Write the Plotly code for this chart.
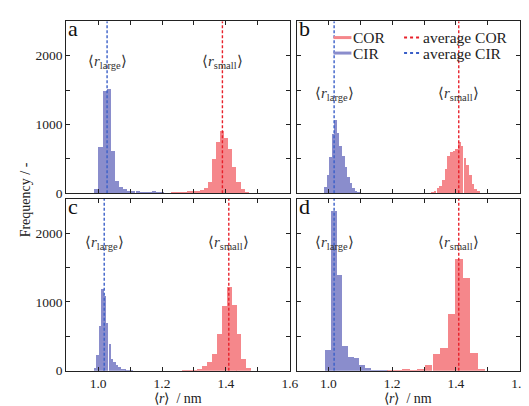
import plotly.graph_objects as go

# ---------------- data ----------------
panels = ["a", "b", "c", "d"]

cir_a_x = [0.995, 1.008, 1.021, 1.034, 1.047, 1.060, 1.072, 1.085, 1.098, 1.111, 1.124, 1.137, 1.150, 1.162, 1.175, 1.188, 1.201]
cir_a_y = [57, 670, 1490, 1512, 614, 175, 94, 57, 37, 37, 28, 20, 15, 15, 35, 10, 5]
cor_a_x = [1.235, 1.248, 1.260, 1.273, 1.286, 1.299, 1.312, 1.325, 1.337, 1.350, 1.363, 1.376, 1.389, 1.402, 1.414, 1.427, 1.440, 1.453, 1.466]
cor_a_y = [5, 8, 12, 15, 33, 33, 33, 47, 80, 156, 496, 746, 908, 803, 638, 377, 165, 61, 15]

cir_b_x = [0.989, 0.997, 1.005, 1.013, 1.021, 1.029, 1.037, 1.045, 1.053, 1.061, 1.069, 1.077, 1.085, 1.093]
cir_b_y = [94, 260, 520, 851, 1064, 874, 685, 543, 377, 235, 142, 71, 33, 10]
cor_b_x = [1.325, 1.333, 1.342, 1.350, 1.359, 1.367, 1.376, 1.384, 1.393, 1.401, 1.410, 1.418, 1.427, 1.435, 1.444, 1.452, 1.461, 1.469]
cor_b_y = [12, 33, 71, 108, 189, 345, 543, 590, 614, 638, 742, 685, 505, 401, 260, 128, 61, 23]

cir_c_x = [0.9905, 0.998, 1.006, 1.014, 1.021, 1.029, 1.037, 1.044, 1.052, 1.060, 1.067, 1.075, 1.083, 1.090, 1.098, 1.106]
cir_c_y = [47, 229, 657, 1190, 1086, 695, 395, 180, 133, 95, 61, 37, 23, 15, 12, 8]
cor_c_x = [1.272, 1.287, 1.303, 1.318, 1.333, 1.349, 1.364, 1.380, 1.395, 1.4105, 1.426, 1.441, 1.457, 1.472]
cor_c_y = [8, 10, 12, 37, 76, 133, 251, 537, 943, 1219, 966, 537, 180, 47]

cir_d_x = [0.997, 1.015, 1.033, 1.051, 1.069, 1.087, 1.105, 1.123, 1.141, 1.159, 1.177]
cir_d_y = [307, 2330, 1400, 370, 208, 185, 90, 42, 15, 8, 6]
cor_d_x = [1.194, 1.218, 1.242, 1.266, 1.289, 1.313, 1.337, 1.361, 1.384, 1.408, 1.432, 1.455, 1.479]
cor_d_y = [5, 12, 23, 8, 23, 90, 250, 330, 830, 1630, 1355, 260, 35]

# histogram bin widths (nm)
cir_binwidth = [0.0128, 0.0080, 0.0077, 0.0180]
cor_binwidth = [0.0128, 0.0085, 0.0154, 0.0237]

# averages (nm)
avg_cir = [1.028, 1.018, 1.019, 1.018]
avg_cor = [1.389, 1.409, 1.409, 1.409]

x_ticks = [1.0, 1.2, 1.4, 1.6]
y_ticks = [0, 1000, 2000]

cir_x = [cir_a_x, cir_b_x, cir_c_x, cir_d_x]
cir_y = [cir_a_y, cir_b_y, cir_c_y, cir_d_y]
cor_x = [cor_a_x, cor_b_x, cor_c_x, cor_d_x]
cor_y = [cor_a_y, cor_b_y, cor_c_y, cor_d_y]

# ---------------- style ----------------
W, H = 529, 406
FONT = "Liberation Serif, Times New Roman, serif"
BLUE_BAR = "#8a8dcc"
RED_BAR = "#f5878b"
BLUE_LINE = "#3a5fc8"
RED_LINE = "#e8202a"
TXT = "#222222"

def fx(px):
    return px / W

def fy(py):
    return 1 - py / H

xdom = [[fx(59.2), fx(286.7)], [fx(293.5), fx(520.5)]]
ydom = [[fy(189.0), fy(13.5)], [fy(370.0), fy(194.5)]]
label_y = [0.765, 0.575, 0.745, 0.745]

fig = go.Figure()

for i in range(4):
    row, col = divmod(i, 2)
    n = "" if i == 0 else str(i + 1)
    xa, ya = "x" + n, "y" + n
    fig.add_trace(go.Bar(x=cir_x[i], y=cir_y[i], width=cir_binwidth[i],
                         marker=dict(color=BLUE_BAR, line=dict(width=0)),
                         xaxis=xa, yaxis=ya, showlegend=False))
    fig.add_trace(go.Bar(x=cor_x[i], y=cor_y[i], width=cor_binwidth[i],
                         marker=dict(color=RED_BAR, line=dict(width=0)),
                         xaxis=xa, yaxis=ya, showlegend=False))
    fig.add_trace(go.Scatter(x=[avg_cir[i], avg_cir[i]], y=[0, 2500], mode="lines",
                             line=dict(color=BLUE_LINE, width=1.4, dash="3px,2px"),
                             xaxis=xa, yaxis=ya, showlegend=False))
    fig.add_trace(go.Scatter(x=[avg_cor[i], avg_cor[i]], y=[0, 2500], mode="lines",
                             line=dict(color=RED_LINE, width=1.4, dash="3px,2px"),
                             xaxis=xa, yaxis=ya, showlegend=False))

    common = dict(showline=True, linecolor="#222", linewidth=1, mirror="allticks",
                  ticks="inside", ticklen=4, tickcolor="#222", showgrid=False,
                  zeroline=False, tickfont=dict(family=FONT, size=13.5, color=TXT))
    xkey = "xaxis" + n
    ykey = "yaxis" + n
    fig.layout[xkey] = dict(common, domain=xdom[col], range=[0.9, 1.6], anchor=ya,
                            tickvals=x_ticks, tickformat=".1f",
                            showticklabels=(row == 1),
                            minor=dict(dtick=0.1, tick0=0.9, ticks="inside", ticklen=4, tickcolor="#222"))
    fig.layout[ykey] = dict(common, domain=ydom[row], range=[0, 2500], anchor=xa,
                            tickvals=y_ticks, showticklabels=(col == 0),
                            minor=dict(dtick=500, tick0=0, ticks="inside", ticklen=4, tickcolor="#222"))

    # panel letter
    fig.add_annotation(x=0.0, y=0.955, xref=xa + " domain", yref=ya + " domain",
                       text=panels[i], showarrow=False, xanchor="left", yanchor="middle",
                       font=dict(family=FONT, size=22, color="#111"))
    # r labels
    fig.add_annotation(x=avg_cir[i], y=label_y[i], xref=xa, yref=ya + " domain",
                       text="⟨<i>r</i><sub>large</sub>⟩", showarrow=False,
                       xanchor="center", yanchor="middle",
                       font=dict(family=FONT, size=15, color="#333"))
    fig.add_annotation(x=avg_cor[i], y=label_y[i], xref=xa, yref=ya + " domain",
                       text="⟨<i>r</i><sub>small</sub>⟩", showarrow=False,
                       xanchor="center", yanchor="middle",
                       font=dict(family=FONT, size=15, color="#333"))

# legend (manual) in panel b
lx, ly = "x2 domain", "y2 domain"
legend_items = [
    ("COR", RED_BAR, "solid", 0.166, 0.905),
    ("CIR", BLUE_BAR, "solid", 0.166, 0.815),
    ("average COR", RED_LINE, "dot", 0.482, 0.905),
    ("average CIR", BLUE_LINE, "dot", 0.482, 0.815),
]
for label, color, dash, x0, y0 in legend_items:
    fig.add_shape(type="line", xref=lx, yref=ly, x0=x0, x1=x0 + 0.08, y0=y0, y1=y0,
                  line=dict(color=color, width=3 if dash == "solid" else 2, dash=dash))
    fig.add_annotation(x=x0 + 0.082, y=y0, xref=lx, yref=ly, text=label, showarrow=False,
                       xanchor="left", yanchor="middle", borderpad=0,
                       font=dict(family=FONT, size=15.5, color="#222"))

# axis titles
fig.add_annotation(x=fx(18), y=fy(195.5), xref="paper", yref="paper", text="Frequency / -",
                   textangle=-90, showarrow=False, xanchor="center", yanchor="middle",
                   font=dict(family=FONT, size=14, color=TXT))
for cx in [173, 407]:
    fig.add_annotation(x=fx(cx), y=fy(398), xref="paper", yref="paper",
                       text="⟨<i>r</i>⟩  / nm", showarrow=False, xanchor="center", yanchor="middle",
                       font=dict(family=FONT, size=14, color=TXT))

fig.update_layout(width=W, height=H, margin=dict(l=0, r=0, t=0, b=0, pad=0),
                  paper_bgcolor="white", plot_bgcolor="white", barmode="overlay",
                  bargap=0, font=dict(family=FONT))

fig.write_html("out.html")
